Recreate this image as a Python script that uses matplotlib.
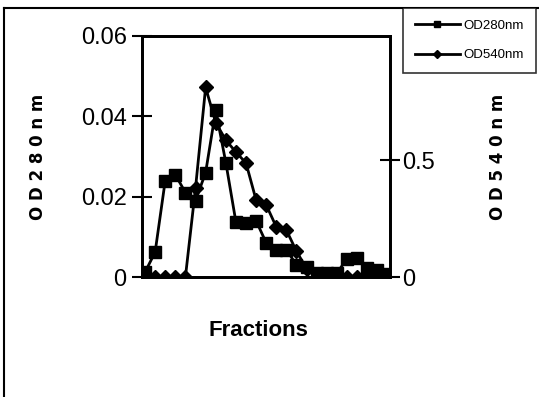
import matplotlib
matplotlib.use("Agg")
import matplotlib.pyplot as plt
from matplotlib.lines import Line2D

plt.rcParams["font.family"] = ["Liberation Sans Narrow", "Liberation Sans", "DejaVu Sans"]

# elution profile, one value per collected fraction
fractions = list(range(1, 26))
od280 = [0.0012, 0.0062, 0.0240, 0.0255, 0.0210, 0.0190, 0.0260, 0.0415,
         0.0285, 0.0137, 0.0135, 0.0140, 0.0085, 0.0067, 0.0068, 0.0030,
         0.0025, 0.0010, 0.0010, 0.0010, 0.0045, 0.0048, 0.0022, 0.0018,
         0.0008]
od540 = [0.0, 0.0, 0.0, 0.0, 0.0, 0.38, 0.81, 0.66, 0.585, 0.534, 0.487,
         0.329, 0.308, 0.214, 0.200, 0.110, 0.035, 0.0, 0.0, 0.0, 0.0, 0.0,
         0.0, 0.0, 0.0]

left_ticks = [0, 0.02, 0.04, 0.06]
left_labels = ["0", "0.02", "0.04", "0.06"]
right_ticks = [0, 0.5]
right_labels = ["0", "0.5"]

W, H = 539, 397
fig = plt.figure(figsize=(W / 100, H / 100), dpi=100)

ax = fig.add_axes([142 / W, 1 - 277 / H, 248 / W, 241 / H])
ax2 = ax.twinx()

ax.plot(fractions, od280, color="black", lw=2, marker="s", ms=8,
        label="OD280nm", zorder=3)
ax2.plot(fractions, od540, color="black", lw=2, marker="D", ms=7,
         label="OD540nm", zorder=2)

ax.set_xlim(0.7, 25.26)
ax.set_ylim(0, 0.06)
ax2.set_ylim(0, 1.03)
ax.set_xticks([])

ax.set_yticks(left_ticks)
ax.set_yticklabels(left_labels)
ax2.set_yticks(right_ticks)
ax2.set_yticklabels(right_labels)
ax.tick_params(axis="y", direction="inout", length=14, width=1.5,
               labelsize=17, pad=4)
ax2.tick_params(axis="y", direction="inout", length=14, width=1.5,
                labelsize=17, pad=2)
for a in (ax, ax2):
    for s in a.spines.values():
        s.set_linewidth(2)

ax.set_ylabel("O D 2 8 0 n m", fontsize=12, fontweight="bold",
              family=["DejaVu Sans"])
ax.yaxis.set_label_coords(-0.383, 0.5)
ax2.set_ylabel("O D 5 4 0 n m", fontsize=12, fontweight="bold",
               family=["DejaVu Sans"], rotation=90)
ax2.yaxis.set_label_coords(1.40, 0.5)
ax.set_xlabel("Fractions", fontsize=16, fontweight="bold")
ax.xaxis.set_label_coords(0.468, -0.178)

# outer chart frame
fig.add_artist(Line2D([4 / W, 4 / W], [0, 1 - 8 / H], color="black", lw=1.5,
                      transform=fig.transFigure))
fig.add_artist(Line2D([4 / W, 1], [1 - 8 / H, 1 - 8 / H], color="black",
                      lw=1.5, transform=fig.transFigure))

leg = fig.legend(handles=[ax.lines[0], ax2.lines[0]], loc="upper left",
                 bbox_to_anchor=(403 / W, 1 - 8 / H), frameon=True,
                 fancybox=False, edgecolor="black", fontsize=9.5,
                 handlelength=3.4, handletextpad=0.3, markerscale=0.6,
                 borderaxespad=0, borderpad=0.9, labelspacing=1.3)
leg.get_frame().set_linewidth(1.2)

fig.savefig("out.png", dpi=100)
